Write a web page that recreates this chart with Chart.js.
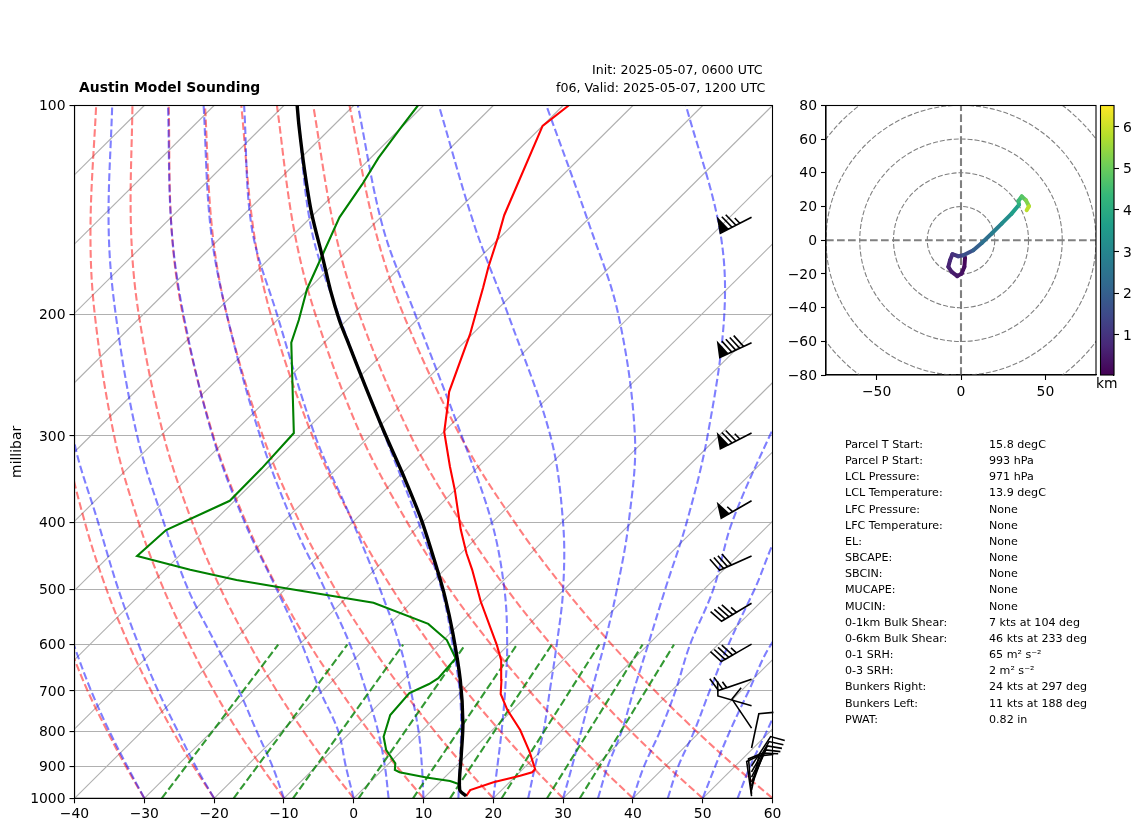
<!DOCTYPE html>
<html>
<head>
<meta charset="utf-8">
<title>Austin Model Sounding</title>
<script src="https://cdn.jsdelivr.net/npm/chart.js@4"></script>
<style>
    html, body { margin: 0; padding: 0; background: #fff; }
    body { width: 1142px; height: 832px; position: relative; overflow: hidden; font-family: "DejaVu Sans", sans-serif; color: #000; }
    canvas { position: absolute; left: 0; top: 0; }
    .txt { position: absolute; white-space: pre; line-height: 1; }
</style>
</head>
<body>
<canvas id="skew" width="1142" height="832"></canvas>
<canvas id="hodo" width="1142" height="832"></canvas>
<canvas id="cbar" width="1142" height="832"></canvas>
<div class="txt" style="left:79px;top:81px;font-size:13.9px;font-weight:bold;">Austin Model Sounding</div>
<div class="txt" style="left:592px;top:64px;font-size:12.6px;">Init: 2025-05-07, 0600 UTC</div>
<div class="txt" style="left:556px;top:81.5px;font-size:12.6px;">f06, Valid: 2025-05-07, 1200 UTC</div>
<div class="txt" style="left:1096px;top:377px;font-size:13.9px;">km</div>
<div id="stats"></div>

<script>
// sounding, temperature and dewpoint
const tempP = [993, 973, 948, 928, 917, 908, 857, 797, 746, 707, 675, 632, 601, 520, 468, 443, 409, 359, 332, 296, 272, 259, 214, 204, 183, 171, 155, 144, 107, 100];
const tempC = [15.8, 15.5, 17.7, 20.6, 21.8, 21.8, 18.5, 14, 9.3, 6, 4.1, 1.2, -1.6, -10.2, -16, -19.2, -23.5, -30, -34.1, -39.9, -43.1, -45, -50.3, -51.8, -55.2, -57.4, -60.3, -62.6, -70, -69.2];

const dewP = [963, 954, 944, 933, 917, 910, 890, 852, 815, 758, 705, 684, 671, 628, 591, 560, 522, 495, 484, 468, 447, 410, 372, 334, 297, 220, 204, 184, 163, 145, 130, 119, 108, 100];
const dewC = [13.5, 13.1, 11.3, 7.4, 2.8, 1.8, 0.9, -2.3, -4.6, -6.8, -7.2, -5.7, -5.2, -5.6, -9.5, -14.5, -25.4, -41.6, -48.3, -56.4, -66, -65.6, -60.7, -60.8, -61.3, -74.7, -76.9, -80.2, -83.1, -85.9, -87.4, -88.9, -90, -90.8];

const parcelP = [993, 971, 871, 779, 675, 578, 512, 468, 397, 343, 296, 253, 218, 204, 185, 167, 143, 124, 107, 100];
const parcelC = [15.8, 13.9, 9.4, 4.8, -1.8, -9.6, -16, -21, -30.4, -39.3, -48.5, -58.1, -67.1, -71.1, -76.6, -82.1, -90.5, -97.7, -104.9, -108.1];

// background lines, temperature at each of these levels
const levels = [1000, 900, 800, 700, 600, 500, 400, 300, 200, 150, 100];

const dryAdiabats = [
    [-30, -37.2, -45, -53.6, -63, -73.7, -86, -100.8, -119.6, -131.7, -147.2],
    [-20, -27.5, -35.6, -44.5, -54.4, -65.5, -78.3, -93.7, -113.3, -125.9, -142],
    [-10, -17.8, -26.3, -35.5, -45.7, -57.3, -70.6, -86.6, -107, -120.1, -136.9],
    [0, -8.1, -16.9, -26.5, -37.1, -49.1, -62.9, -79.5, -100.7, -114.3, -131.7],
    [10, 1.6, -7.5, -17.4, -28.5, -40.9, -55.2, -72.4, -94.4, -108.5, -126.5],
    [20, 11.3, 1.9, -8.4, -19.8, -32.7, -47.5, -65.3, -88.1, -102.7, -121.3],
    [30, 21, 11.3, 0.6, -11.2, -24.5, -39.8, -58.2, -81.8, -96.8, -116.1],
    [40, 30.7, 20.7, 9.7, -2.5, -16.3, -32.1, -51.2, -75.4, -91, -111],
    [50, 40.4, 30, 18.7, 6.1, -8.1, -24.4, -44.1, -69.1, -85.2, -105.8],
    [60, 50.1, 39.4, 27.7, 14.8, 0.2, -16.7, -37, -62.8, -79.4, -100.6]
];

const moistAdiabats = [
    [-30, -37, -44.7, -53.1, -62.3, -73, -85, -100, -118, -130, -146],
    [-20, -27.2, -34.9, -43.5, -53, -63.8, -76.4, -92.5, -112, -125, -141],
    [-10, -16.2, -23.6, -31.9, -41.9, -53.8, -67, -83.3, -104, -117.5, -134.6],
    [0, -5.7, -11.9, -20.3, -29.6, -41.1, -55.4, -72.5, -94.3, -108.5, -126.6],
    [5, -0.1, -6.2, -13.7, -22.7, -34.2, -48.5, -65.7, -88.1, -102.9, -121.5],
    [10, 5.2, -0.4, -7.3, -15.6, -26.3, -39.9, -57.8, -80.9, -97, -115.7],
    [15, 10.6, 5.7, -0.3, -8, -17.5, -30.5, -47.8, -72.1, -88.5, -108.1],
    [20, 16, 11.5, 6.2, -0.2, -8.5, -20, -36.8, -61.1, -78.2, -99.4],
    [25, 21.4, 17.5, 12.6, 6.9, -0.1, -9.8, -24.1, -47.8, -65, -87.8],
    [30, 26.7, 22.9, 18.6, 13.7, 7.6, -0.4, -12, -32, -48.5, -72.4],
    [35, 31.8, 28.7, 24.6, 20, 14.5, 7.9, -1.6, -16.8, -30, -52.4],
    [40, 37, 34.2, 30.6, 26, 21.4, 14.4, 7.3, -1.9, -11.4, -28],
    [45, 41.9, 39.1, 35.5, 31.5, 27.3, 22, 21, 15, 5, -15],
    [50, 47.2, 44.2, 41.1, 37.6, 36, 34, 30, 20, 10, -5],
    [55, 52.2, 49.5, 46.4, 44, 42, 38, 33, 25, 15, 0]
];

const mixingP = [1000, 600];
const mixingBottom = [-27.5, -17.2, -8.7, 0.7, 8.5, 13.8, 21.2, 27.7, 32.4];
const mixingTop = [-33, -23.1, -15.1, -6.2, 1.2, 6.2, 13, 19.2, 23.7];

const isotherms = [-130, -120, -110, -100, -90, -80, -70, -60, -50, -40, -30, -20, -10, 0, 10, 20, 30, 40, 50, 60];

const pressureTicks = [100, 200, 300, 400, 500, 600, 700, 800, 900, 1000];

// wind barbs
const windP = [145, 220, 297, 372, 447, 523, 599, 673, 735, 792, 846, 898, 916, 932, 947, 960, 973, 985, 993];
const windDir = [243, 245, 243, 240, 246, 239, 240, 251, 286, 326, 12, 33, 30, 27, 24, 20, 12, 355, 352];
const windKts = [75, 90, 75, 55, 40, 45, 45, 25, 10, 10, 10, 10, 10, 10, 10, 10, 10, 10, 10];
const barbColumnT = 57;

// hodograph
const hodoU = [2.4, 2, 0.4, -2.2, -5.5, -7.5, -6.5, -5.1, -1.6, 1.4, 7.3, 12.3, 18.2, 24.1, 30, 34.4, 34, 36, 38.5, 40.3, 38.9];
const hodoV = [-10.3, -15.8, -19.8, -21.3, -18.8, -15.8, -11.9, -8.3, -9.5, -8.9, -5.9, -1.6, 4, 9.9, 15.8, 21.1, 23.3, 26, 23.7, 20.2, 17.8];
const hodoKm = [0.08, 0.2, 0.3, 0.4, 0.5, 0.6, 0.7, 0.85, 1.1, 1.4, 1.8, 2.2, 2.6, 3, 3.4, 3.9, 4.3, 4.6, 5, 5.5, 6.2];
const hodoRings = [20, 40, 60, 80, 100];
const hodoXTicks = [-50, 0, 50];
const kmTicks = [1, 2, 3, 4, 5, 6];
const kmMin = 0.03;
const kmMax = 6.51;

const viridis = ['#440154', '#482878', '#3e4989', '#31688e', '#26828e', '#1f9e89', '#35b779', '#6ece58', '#b5de2b', '#fde725'];

// text block
const statLabels = ['Parcel T Start:', 'Parcel P Start:', 'LCL Pressure:', 'LCL Temperature:', 'LFC Pressure:', 'LFC Temperature:', 'EL:', 'SBCAPE:', 'SBCIN:', 'MUCAPE:', 'MUCIN:', '0-1km Bulk Shear:', '0-6km Bulk Shear:', '0-1 SRH:', '0-3 SRH:', 'Bunkers Right:', 'Bunkers Left:', 'PWAT:'];
const statValues = ['15.8 degC', '993 hPa', '971 hPa', '13.9 degC', 'None', 'None', 'None', 'None', 'None', 'None', 'None', '7 kts at 104 deg', '46 kts at 233 deg', '65 m\u00b2 s\u207b\u00b2', '2 m\u00b2 s\u207b\u00b2', '24 kts at 297 deg', '11 kts at 188 deg', '0.82 in'];

const statsEl = document.getElementById('stats');
statLabels.forEach((label, i) => {
    const top = 439 + i * 16.16;
    statsEl.innerHTML += `<div class="txt" style="left:845px;top:${top}px;font-size:11.1px;">${label}</div>`;
    statsEl.innerHTML += `<div class="txt" style="left:989px;top:${top}px;font-size:11.1px;">${statValues[i]}</div>`;
});

Chart.defaults.font.family = '"DejaVu Sans", sans-serif';
Chart.defaults.font.size = 13.9;
Chart.defaults.color = '#000';
Chart.defaults.animation = false;
Chart.defaults.elements.line.capBezierPoints = false;

const minusSign = v => String(v).replace('-', '\u2212');

// the skewed x axis: 100 degrees of shift per decade of pressure
const skewX = (t, p) => t + 100 * Math.log10(1000 / p);
const skewPoints = (temps, pressures) => temps.map((t, i) => ({ x: skewX(t, pressures[i]), y: pressures[i] }));

const lineSet = (points, color, width, dash, tension) => ({
    data: points,
    showLine: true,
    borderColor: color,
    borderWidth: width,
    borderDash: dash || [],
    borderCapStyle: 'butt',
    tension: tension || 0,
    pointRadius: 0,
    clip: 0
});

const dashes = [7.7, 3.3];
const skewSets = [
    lineSet(skewPoints(parcelC, parcelP), '#000', 3.4, [], 0.3),
    lineSet(skewPoints(tempC, tempP), '#f00', 2.1),
    lineSet(skewPoints(dewC, dewP), '#008000', 2.1)
];
mixingBottom.forEach((t, i) => {
    skewSets.push(lineSet(skewPoints([t, mixingTop[i]], mixingP), 'rgba(0,128,0,0.8)', 2.1, dashes));
});
moistAdiabats.forEach(temps => skewSets.push(lineSet(skewPoints(temps, levels), 'rgba(0,0,255,0.5)', 2.1, dashes, 0.35)));
dryAdiabats.forEach(temps => skewSets.push(lineSet(skewPoints(temps, levels), 'rgba(255,0,0,0.5)', 2.1, dashes, 0.35)));
isotherms.forEach(t => skewSets.push(lineSet(skewPoints([t, t], [1000, 100]), '#b0b0b0', 1.1)));

const frame = {
    id: 'frame',
    afterDatasetsDraw(chart) {
        const a = chart.chartArea;
        const c = chart.ctx;
        c.save();
        c.strokeStyle = '#000';
        c.lineWidth = 1.1;
        c.strokeRect(a.left, a.top, a.right - a.left, a.bottom - a.top);
        c.restore();
    }
};

// chart.js has no wind barbs, so build each one like matplotlib does
function drawBarb(c, x, y, dir, kts) {
    const len = 35, height = len * 0.4, width = len * 0.25, spacing = len * 0.125;
    const rad = dir * Math.PI / 180;
    const along = [Math.sin(rad), -Math.cos(rad)];
    const side = [Math.cos(rad), Math.sin(rad)];
    const pt = (sx, sy) => [x + along[0] * sy + side[0] * sx, y + along[1] * sy + side[1] * sx];

    let speed = Math.round(kts / 5) * 5;
    const flags = Math.floor(speed / 50);
    speed -= flags * 50;
    const fulls = Math.floor(speed / 10);
    speed -= fulls * 10;
    const half = speed >= 5;

    const verts = [pt(0, 0)];
    let offset = len;
    for (let i = 0; i < flags; i++) {
        if (offset !== len) offset += spacing / 2;
        verts.push(pt(0, offset), pt(height, offset - width / 2), pt(0, offset - width));
        offset -= width + spacing;
    }
    for (let i = 0; i < fulls; i++) {
        verts.push(pt(0, offset), pt(height, offset + width / 2), pt(0, offset));
        offset -= spacing;
    }
    if (half) {
        if (offset === len) offset -= 1.5 * spacing;
        verts.push(pt(0, offset), pt(height / 2, offset + width / 4), pt(0, offset));
    }

    c.beginPath();
    verts.forEach((v, i) => i ? c.lineTo(v[0], v[1]) : c.moveTo(v[0], v[1]));
    c.closePath();
    c.fill();
    c.stroke();
}

const barbs = {
    id: 'barbs',
    afterDraw(chart) {
        const c = chart.ctx;
        c.save();
        c.fillStyle = '#000';
        c.strokeStyle = '#000';
        c.lineWidth = 1.6;
        c.lineJoin = 'miter';
        windP.forEach((p, i) => {
            drawBarb(c, chart.scales.x.getPixelForValue(barbColumnT), chart.scales.y.getPixelForValue(p), windDir[i], windKts[i]);
        });
        c.restore();
    }
};

new Chart(document.getElementById('skew'), {
    type: 'scatter',
    data: { datasets: skewSets },
    options: {
        responsive: false,
        devicePixelRatio: 1,
        events: [],
        layout: { padding: { left: 0, top: 105.5, right: 369.5, bottom: 0 } },
        plugins: { legend: { display: false }, tooltip: { enabled: false } },
        scales: {
            x: {
                type: 'linear',
                min: -40,
                max: 60,
                afterFit: s => { s.height = 33.7; },
                grid: { drawOnChartArea: false, tickLength: 5, color: '#000', tickWidth: 1.1 },
                border: { color: '#000', width: 1.1 },
                ticks: { stepSize: 10, padding: 3, maxRotation: 0, callback: minusSign }
            },
            y: {
                type: 'logarithmic',
                reverse: true,
                min: 100,
                max: 1000,
                afterFit: s => { s.width = 74.5; },
                afterBuildTicks: s => { s.ticks = pressureTicks.map(v => ({ value: v })); },
                grid: { color: '#b0b0b0', lineWidth: 1.1, tickLength: 5, tickColor: '#000', tickWidth: 1.1 },
                border: { color: '#000', width: 1.1 },
                title: { display: true, text: 'millibar', padding: { top: 9, bottom: 0 } },
                ticks: { padding: 4, labelOffset: 1, autoSkip: false, callback: v => String(v) }
            }
        }
    },
    plugins: [frame, barbs]
});

// viridis lookup for the height colours
function heightColor(km) {
    const pos = Math.min(Math.max((km - kmMin) / (kmMax - kmMin), 0), 1) * (viridis.length - 1);
    const i = Math.min(Math.floor(pos), viridis.length - 2);
    const f = pos - i;
    const rgb = [1, 3, 5].map(k => {
        const a = parseInt(viridis[i].substr(k, 2), 16);
        const b = parseInt(viridis[i + 1].substr(k, 2), 16);
        return Math.round(a + (b - a) * f);
    });
    return `rgb(${rgb.join(',')})`;
}

const rings = {
    id: 'rings',
    beforeDatasetsDraw(chart) {
        const a = chart.chartArea;
        const c = chart.ctx;
        const cx = chart.scales.x.getPixelForValue(0);
        const cy = chart.scales.y.getPixelForValue(0);
        c.save();
        c.beginPath();
        c.rect(a.left, a.top, a.right - a.left, a.bottom - a.top);
        c.clip();
        c.strokeStyle = '#808080';
        c.lineWidth = 1.1;
        c.setLineDash([5, 2]);
        hodoRings.forEach(r => {
            c.beginPath();
            c.arc(cx, cy, chart.scales.x.getPixelForValue(r) - cx, 0, Math.PI * 2);
            c.stroke();
        });
        c.restore();
    }
};

const hodoPoints = hodoU.map((u, i) => ({ x: u, y: hodoV[i] }));

new Chart(document.getElementById('hodo'), {
    type: 'scatter',
    data: {
        datasets: [
            {
                data: hodoPoints,
                showLine: true,
                pointRadius: 0,
                borderWidth: 4,
                borderCapStyle: 'round',
                borderColor: viridis[0],
                segment: { borderColor: ctx => heightColor((hodoKm[ctx.p0DataIndex] + hodoKm[ctx.p1DataIndex]) / 2) }
            },
            lineSet([{ x: -80, y: 0 }, { x: 80, y: 0 }], '#808080', 2.1, dashes),
            lineSet([{ x: 0, y: -80 }, { x: 0, y: 80 }], '#808080', 2.1, dashes)
        ]
    },
    options: {
        responsive: false,
        devicePixelRatio: 1,
        events: [],
        layout: { padding: { left: 780, top: 105.5, right: 46, bottom: 427 } },
        plugins: { legend: { display: false }, tooltip: { enabled: false } },
        scales: {
            x: {
                type: 'linear',
                min: -80,
                max: 80,
                afterFit: s => { s.height = 30; },
                afterBuildTicks: s => { s.ticks = hodoXTicks.map(v => ({ value: v })); },
                grid: { drawOnChartArea: false, tickLength: 5, color: '#000', tickWidth: 1.1 },
                border: { color: '#000', width: 1.1 },
                ticks: { padding: 4, maxRotation: 0, callback: minusSign }
            },
            y: {
                type: 'linear',
                min: -80,
                max: 80,
                afterFit: s => { s.width = 46; },
                grid: { drawOnChartArea: false, tickLength: 5, color: '#000', tickWidth: 1.1 },
                border: { color: '#000', width: 1.1 },
                ticks: { stepSize: 20, padding: 4, labelOffset: 1, callback: minusSign }
            }
        }
    },
    plugins: [rings, frame]
});

new Chart(document.getElementById('cbar'), {
    type: 'bar',
    data: {
        labels: ['km'],
        datasets: [{
            data: [[kmMin, kmMax]],
            barPercentage: 1,
            categoryPercentage: 1,
            borderWidth: 0,
            backgroundColor: ctx => {
                const a = ctx.chart.chartArea;
                if (!a) return viridis[0];
                const g = ctx.chart.ctx.createLinearGradient(0, a.bottom, 0, a.top);
                viridis.forEach((col, i) => g.addColorStop(i / (viridis.length - 1), col));
                return g;
            }
        }]
    },
    options: {
        responsive: false,
        devicePixelRatio: 1,
        events: [],
        layout: { padding: { left: 1100.5, top: 105.5, right: 0, bottom: 457 } },
        plugins: { legend: { display: false }, tooltip: { enabled: false } },
        scales: {
            x: { display: false },
            y: {
                position: 'right',
                min: kmMin,
                max: kmMax,
                afterFit: s => { s.width = 28; },
                afterBuildTicks: s => { s.ticks = kmTicks.map(v => ({ value: v })); },
                grid: { drawOnChartArea: false, tickLength: 5, color: '#000', tickWidth: 1.1 },
                border: { color: '#000', width: 1.1 },
                ticks: { padding: 4, labelOffset: 1.5, callback: v => String(v) }
            }
        }
    },
    plugins: [frame]
});
</script>
</body>
</html>
